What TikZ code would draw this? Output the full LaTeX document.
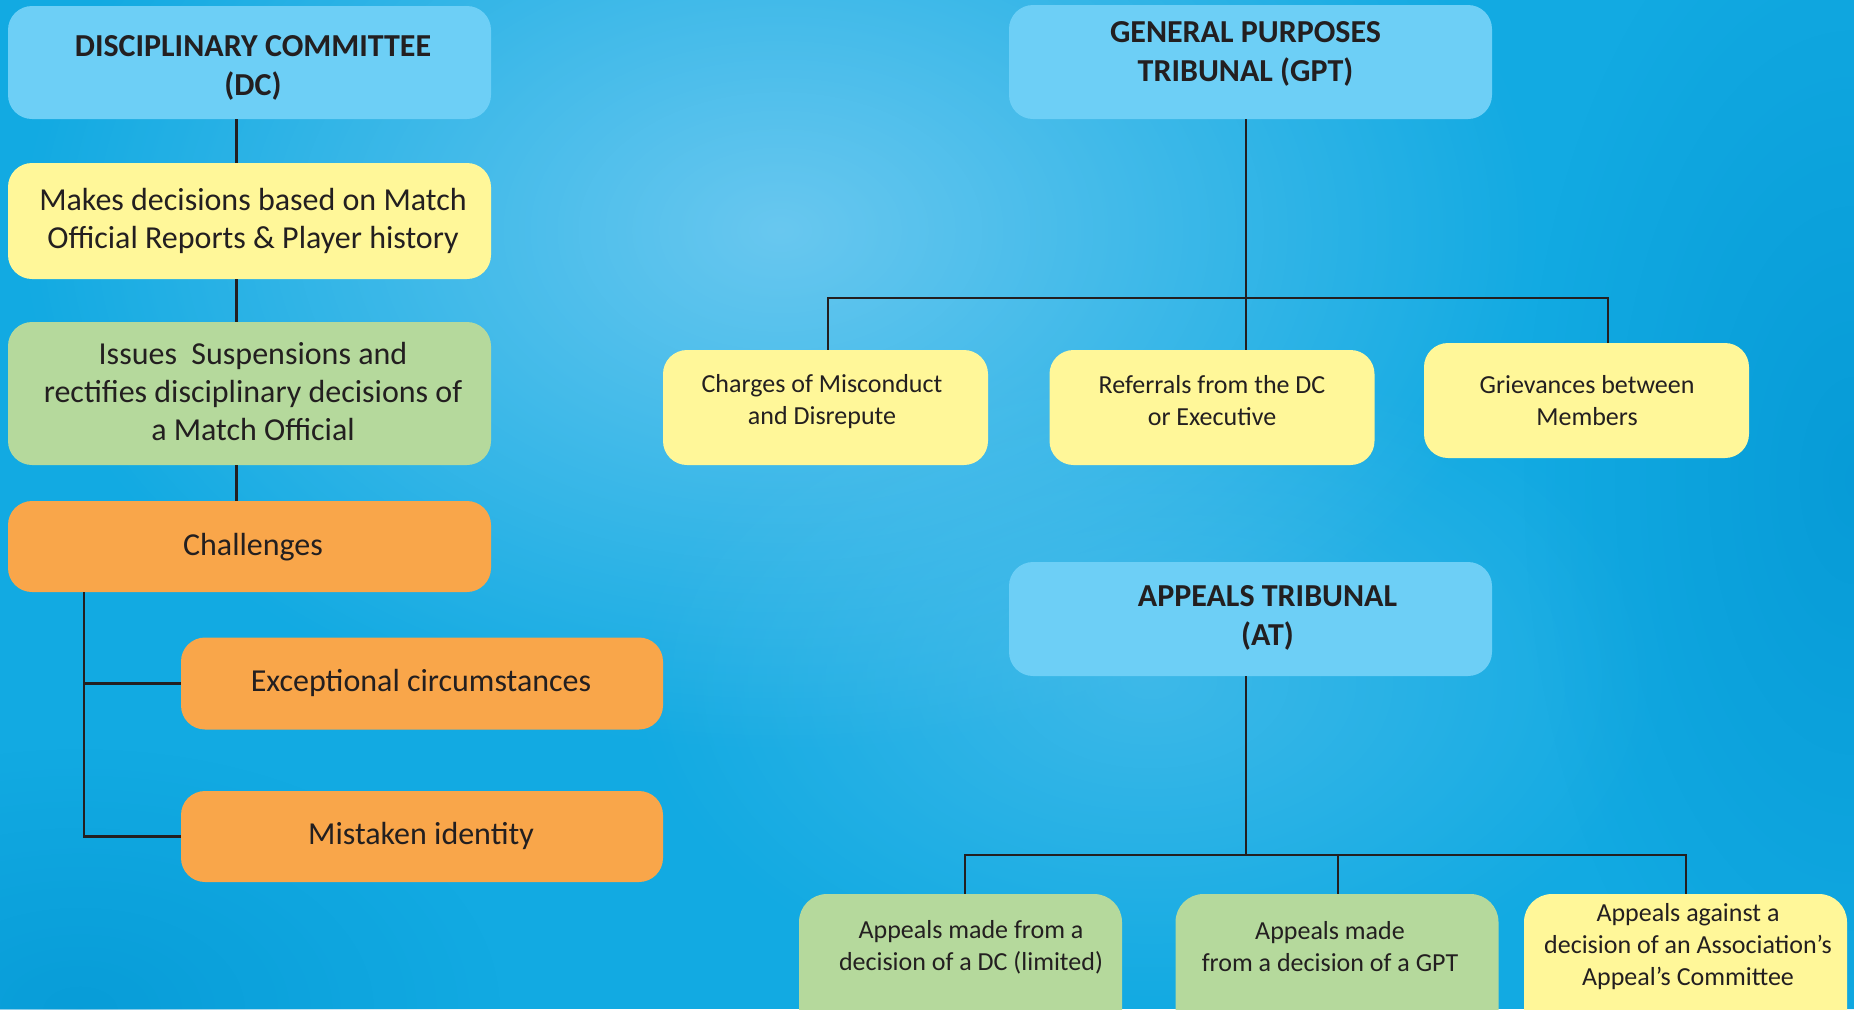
\documentclass[tikz,border=0pt]{standalone}
\usepackage{fontspec}
\setmainfont{Carlito}
\usetikzlibrary{fadings}
\definecolor{bgblue}{HTML}{12AAE2}
\definecolor{bglight}{HTML}{72CBF1}
\definecolor{bgdark}{HTML}{0092D0}
\definecolor{boxblue}{HTML}{6DCFF6}
\definecolor{boxyellow}{HTML}{FFF799}
\definecolor{boxgreen}{HTML}{B5D99C}
\definecolor{boxorange}{HTML}{F9A64A}
\definecolor{txt}{HTML}{231F20}
\definecolor{linec}{HTML}{231F20}
\tikzfading[name=softspot, inner color=transparent!0, outer color=transparent!100]
\begin{document}
\begin{tikzpicture}[x=0.5pt,y=-0.5pt,
  box/.style={rounded corners=12pt, inner sep=0pt, minimum width=241.5pt},
  titlebox/.style={box, fill=boxblue, minimum height=57pt},
  smallbox/.style={box, minimum width=162.5pt, minimum height=57.5pt},
  lowbox/.style={rounded corners=14pt, minimum width=161.5pt, minimum height=83pt, inner sep=0pt},
  tx/.style={align=center, text=txt, inner sep=0pt},
  titletext/.style={tx, font=\bfseries\fontsize{16}{19.5}\selectfont},
  bigtext/.style={tx, font=\fontsize{16}{19}\selectfont},
  smalltext/.style={tx, font=\fontsize{13}{16}\selectfont},
  conn/.style={draw=linec, line width=1.4pt}
]
\useasboundingbox (0,0) rectangle (1854,1009);
% background
\fill[bgblue] (0,0) rectangle (1854,1009);
\fill[bglight, opacity=0.9, path fading=softspot] (780,230) ellipse (760 and 520);
\fill[bglight, opacity=0.45, path fading=softspot] (1150,680) ellipse (520 and 330);
\fill[bgdark, opacity=0.6, path fading=softspot] (1854,480) ellipse (330 and 620);
\fill[bgdark, opacity=0.55, path fading=softspot] (80,1009) ellipse (420 and 260);

% left column
\node[titlebox, minimum height=56.5pt] (dc) at (249.5,62.5) {};
\node[titletext] (dct) at (253,67.5) {DISCIPLINARY COMMITTEE\\(DC)};
\node[box, fill=boxyellow, minimum height=58pt] (make) at (249.5,221) {};
\node[bigtext] (maket) at (253,221) {Makes decisions based on Match\\Official Reports \& Player history};
\node[box, fill=boxgreen, minimum height=71.5pt] (issues) at (249.5,393.5) {};
\node[bigtext] (issuest) at (253,391) {Issues~ Suspensions and\\rectifies disciplinary decisions of\\a Match Official};
\node[box, fill=boxorange, minimum height=45.5pt] (chal) at (249.5,546.5) {};
\node[bigtext] (chalt) at (253,547.5) {Challenges};
\node[box, fill=boxorange, minimum width=241pt, minimum height=46pt] (exc) at (422,683.5) {};
\node[bigtext] (exct) at (421,682.5) {Exceptional circumstances};
\node[box, fill=boxorange, minimum width=241pt, minimum height=45.5pt] (mis) at (422,836.5) {};
\node[bigtext] (mist) at (421,835.5) {Mistaken identity};

\coordinate (lx) at (236.5,0);
\coordinate (cx) at (84,0);
\draw[conn] (dc.south -| lx) -- (make.north -| lx);
\draw[conn] (make.south -| lx) -- (issues.north -| lx);
\draw[conn] (issues.south -| lx) -- (chal.north -| lx);
\draw[conn] (chal.south -| cx) -- (mis.west -| cx) -- (mis.west);
\draw[conn] (exc.west -| cx) -- (exc.west);

% GPT
\node[titlebox] (gpt) at (1250.5,62) {};
\node[titletext] (gptt) at (1245.5,53.7) {GENERAL PURPOSES\\TRIBUNAL (GPT)};
\node[smallbox, fill=boxyellow] (charges) at (825.5,407.5) {};
\node[smalltext] (chargest) at (822,402) {Charges of Misconduct\\and Disrepute};
\node[smallbox, fill=boxyellow] (ref) at (1212,407.5) {};
\node[smalltext] (reft) at (1212,400.5) {Referrals from the DC\\or Executive};
\node[smallbox, fill=boxyellow] (griev) at (1586.5,400.5) {};
\node[smalltext] (grievt) at (1587,400.5) {Grievances between\\Members};

\coordinate (gx) at (1246,298);
\coordinate (g1) at (828,0);
\coordinate (g3) at (1608,0);
\draw[conn] (gpt.south -| gx) -- (gx);
\draw[conn] (charges.north -| g1) -- (g1 |- gx) -- (g3 |- gx) -- (griev.north -| g3);
\draw[conn] (gx) -- (ref.north -| gx);

% AT
\node[titlebox] (at) at (1250.5,619) {};
\node[titletext] (att) at (1267.5,618) {APPEALS TRIBUNAL\\(AT)};
\node[lowbox, fill=boxgreen] (apdc) at (960.5,977) {};
\node[lowbox, fill=boxgreen] (apgpt) at (1337,977) {};
\node[lowbox, fill=boxyellow] (apass) at (1685.5,977) {};
\node[smalltext] (apdct) at (971,947) {Appeals made from a\\decision of a DC (limited)};
\node[smalltext] (apgptt) at (1330,947) {Appeals made\\from a decision of a GPT};
\node[smalltext] (apasst) at (1688,947) {Appeals against a\\decision of an Association’s\\Appeal’s Committee};

\coordinate (ax) at (1246,855);
\coordinate (a1) at (965,0);
\coordinate (a2) at (1338,0);
\coordinate (a3) at (1686,0);
\draw[conn] (at.south -| ax) -- (ax);
\draw[conn] (apdc.north -| a1) -- (a1 |- ax) -- (a3 |- ax) -- (apass.north -| a3);
\draw[conn] (a2 |- ax) -- (apgpt.north -| a2);
\end{tikzpicture}
\end{document}
